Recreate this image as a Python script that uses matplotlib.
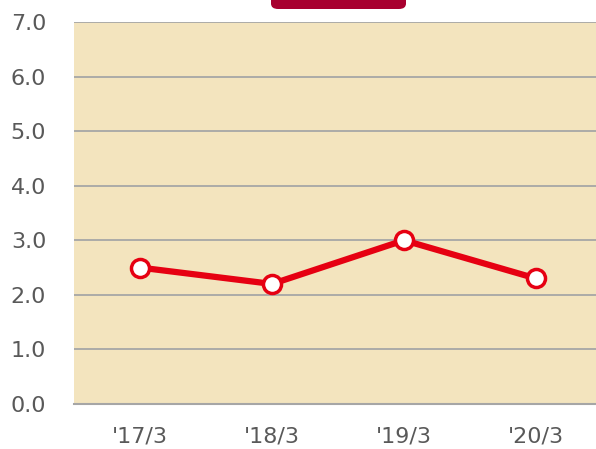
import matplotlib.pyplot as plt
from matplotlib.patches import FancyBboxPatch

# ratio by fiscal year end
periods = ["'17/3", "'18/3", "'19/3", "'20/3"]
values = [2.5, 2.2, 3.0, 2.3]
y_ticks = [0.0, 1.0, 2.0, 3.0, 4.0, 5.0, 6.0, 7.0]

W, H = 596, 449
fig = plt.figure(figsize=(W / 100, H / 100), dpi=100)
ax = fig.add_axes([74 / W, 45 / H, 528 / W, 382 / H])

ax.set_facecolor('#F3E4BE')
x = range(len(periods))
ax.plot(x, values, color='#E60012', linewidth=4.5, zorder=3,
        marker='o', markersize=13, markerfacecolor='white',
        markeredgecolor='#E60012', markeredgewidth=2.5, clip_on=False)

ax.set_xlim(-0.5, len(periods) - 0.5)
ax.set_ylim(0, 7)
ax.set_yticks(y_ticks)
ax.set_yticklabels([f"{v:.1f}" for v in y_ticks])
ax.set_xticks(list(x))
ax.set_xticklabels(periods)

ax.yaxis.grid(True, color='#A6A6A6', linewidth=1.3)
ax.set_axisbelow(True)
for side in ['left', 'right', 'top']:
    ax.spines[side].set_visible(False)
ax.spines['bottom'].set_color('#A6A6A6')
ax.spines['bottom'].set_linewidth(1.5)

ax.tick_params(axis='both', length=0, labelsize=16, labelcolor='#595959')
ax.tick_params(axis='y', pad=20)
ax.tick_params(axis='x', pad=16)

# heading badge, mostly cropped off the top edge
badge = FancyBboxPatch((271 / W, (H - 9) / H), 135 / W, 40 / H,
                       boxstyle='round,pad=0,rounding_size=0.012',
                       transform=fig.transFigure, facecolor='#A8002F',
                       edgecolor='none', clip_on=False)
fig.patches.append(badge)

fig.savefig('out.png', dpi=100)
